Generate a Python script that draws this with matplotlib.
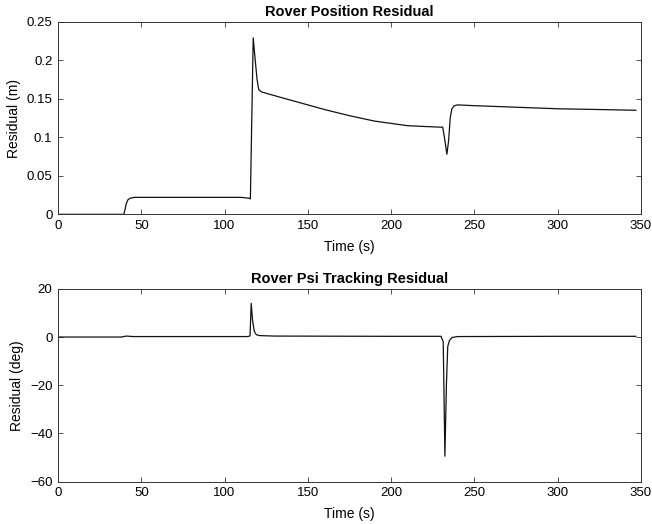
import matplotlib
matplotlib.use("Agg")
import matplotlib.pyplot as plt

plt.rcParams['font.family'] = ['Liberation Sans', 'DejaVu Sans']

# rover position residual (m)
pos_t = [0, 39.5, 40.2, 41, 42, 43.5, 46, 60, 80, 100, 110, 114.5, 115.5,
         117.2, 118.2, 119.5, 120.5, 122, 130, 140, 150, 160, 175, 190,
         200, 210, 220, 231, 232, 233.5, 234.5, 235.5, 236.5, 238, 240,
         250, 275, 300, 325, 347]
pos_r = [0, 0, 0.006, 0.014, 0.019, 0.021, 0.022, 0.022, 0.022, 0.022,
         0.022, 0.021, 0.02, 0.229, 0.205, 0.175, 0.162, 0.159, 0.154,
         0.148, 0.142, 0.136, 0.128, 0.121, 0.118, 0.115, 0.114, 0.113,
         0.1, 0.078, 0.095, 0.125, 0.137, 0.141, 0.142, 0.141, 0.139,
         0.137, 0.136, 0.135]

# rover psi tracking residual (deg)
psi_t = [0, 38, 41, 45, 100, 114, 115.3, 116, 116.8, 117.8, 119, 121,
         130, 200, 230, 231.3, 232.3, 233.2, 234, 235, 236.5, 240, 300, 347]
psi_r = [0, 0, 0.4, 0.2, 0.2, 0.2, 0.5, 14, 7, 2.5, 1.0, 0.6, 0.4, 0.3,
         0.3, -2, -49.5, -20, -4, -1.5, -0.2, 0.2, 0.3, 0.3]

fig = plt.figure(figsize=(6.52, 5.24), dpi=100)
ax1 = fig.add_axes([0.089, 0.591, 0.894, 0.3676])
ax2 = fig.add_axes([0.089, 0.0811, 0.894, 0.3676])

ax1.plot(pos_t, pos_r, color='#111111', lw=0.9)
ax1.set_xlim(0, 350)
ax1.set_ylim(0, 0.25)
ax1.set_yticks([0, 0.05, 0.1, 0.15, 0.2, 0.25])
ax1.set_yticklabels(['0', '0.05', '0.1', '0.15', '0.2', '0.25'])
ax1.set_title('Rover Position Residual', fontsize=10.5, fontweight='bold', pad=4)
ax1.set_xlabel('Time (s)', fontsize=10, labelpad=6)
ax1.set_ylabel('Residual (m)', fontsize=10, labelpad=4)

ax2.plot(psi_t, psi_r, color='#111111', lw=0.9)
ax2.set_xlim(0, 350)
ax2.set_ylim(-60, 20)
ax2.set_yticks([-60, -40, -20, 0, 20])
ax2.set_title('Rover Psi Tracking Residual', fontsize=10.5, fontweight='bold', pad=4)
ax2.set_xlabel('Time (s)', fontsize=10, labelpad=6)
ax2.set_ylabel('Residual (deg)', fontsize=10, labelpad=4)

for ax in (ax1, ax2):
    ax.set_xticks(range(0, 351, 50))
    ax.tick_params(direction='in', top=True, right=True, labelsize=9.5,
                   length=3.5, width=0.6, color='#333333', pad=4)
    for s in ax.spines.values():
        s.set_linewidth(0.7)
        s.set_color('#333333')

fig.savefig('out.png', dpi=100)
